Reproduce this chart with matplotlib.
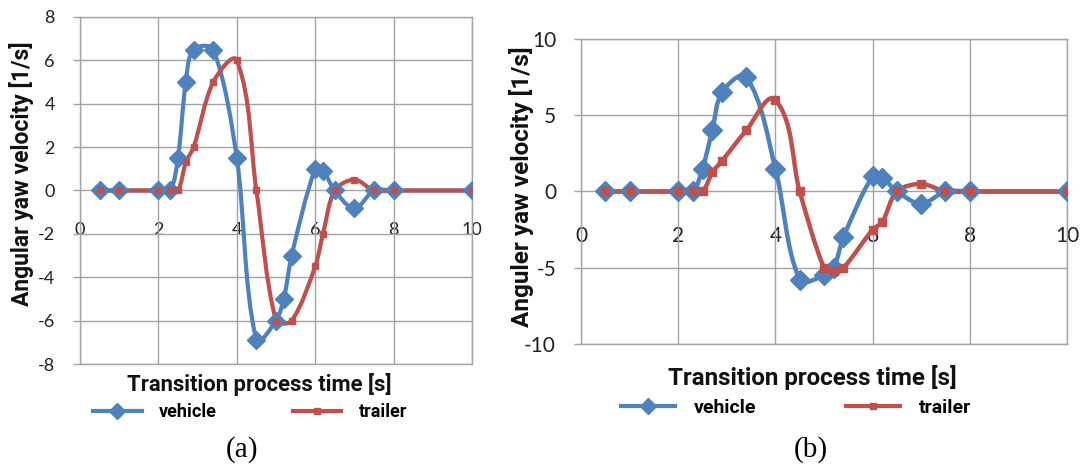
import matplotlib
matplotlib.use("Agg")
import matplotlib.pyplot as plt
import numpy as np
from matplotlib.path import Path
from matplotlib.patches import PathPatch
from matplotlib.lines import Line2D

plt.rcParams['font.family'] = ['Lato', 'DejaVu Sans']
plt.rcParams['axes.unicode_minus'] = False

# (a) yaw velocity
t_veh_a = [0.5, 1, 2, 2.3, 2.5, 2.7, 2.9, 3.4, 4, 4.5, 5, 5.2, 5.4, 6, 6.2, 6.5, 7, 7.5, 8, 10]
w_veh_a = [0, 0, 0, 0, 1.5, 5.0, 6.5, 6.5, 1.5, -6.9, -6.0, -5.0, -3.0, 1.0, 0.9, 0, -0.8, 0, 0, 0]
t_trl_a = [0.5, 1, 2, 2.3, 2.5, 2.7, 2.9, 3.4, 4, 4.5, 5, 5.4, 6, 6.2, 6.5, 7, 7.5, 8, 10]
w_trl_a = [0, 0, 0, 0, 0, 1.3, 2.0, 5.0, 6.0, 0, -6.0, -6.0, -3.5, -2.0, 0, 0.5, 0, 0, 0]

# (b) yaw velocity
t_veh_b = [0.5, 1, 2, 2.3, 2.5, 2.7, 2.9, 3.4, 4, 4.5, 5, 5.2, 5.4, 6, 6.2, 6.5, 7, 7.5, 8, 10]
w_veh_b = [0, 0, 0, 0, 1.5, 4.0, 6.5, 7.5, 1.5, -5.8, -5.5, -5.0, -3.0, 1.0, 0.9, 0, -0.8, 0, 0, 0]
t_trl_b = [0.5, 1, 2, 2.3, 2.5, 2.7, 2.9, 3.4, 4, 4.5, 5, 5.2, 5.4, 6, 6.2, 6.5, 7, 7.5, 8, 10]
w_trl_b = [0, 0, 0, 0, 0, 1.25, 2.0, 4.0, 6.0, 0, -5.0, -5.2, -5.0, -2.5, -2.0, 0, 0.5, 0, 0, 0]

x_ticks = [0, 2, 4, 6, 8, 10]
y_ticks_a = [-8, -6, -4, -2, 0, 2, 4, 6, 8]
y_ticks_b = [-10, -5, 0, 5, 10]

BLUE = '#4f81bd'
RED = '#c0504d'
GRID = '#a3a3a3'
TITLE_FONT = ['Roboto', 'DejaVu Sans']


def smooth_path(ax, x, y, k=0.3):
    # bezier segments through the points (smoothed line); tangent lengths are
    # worked out in screen space so short segments don't overshoot
    fig = ax.figure
    bb = ax.get_position()
    x0, x1 = ax.get_xlim()
    y0, y1 = ax.get_ylim()
    sx = bb.width * fig.bbox.width / (x1 - x0)
    sy = bb.height * fig.bbox.height / (y1 - y0)
    pts = np.column_stack([np.asarray(x, float) * sx, np.asarray(y, float) * sy])
    n = len(pts)

    def tangent(i):
        a = pts[max(i - 1, 0)]
        b = pts[min(i + 1, n - 1)]
        d = b - a
        return d / np.hypot(*d)

    verts = [pts[0]]
    codes = [Path.MOVETO]
    for i in range(n - 1):
        p1, p2 = pts[i], pts[i + 1]
        seg = np.hypot(*(p2 - p1))
        verts += [p1 + tangent(i) * seg * k, p2 - tangent(i + 1) * seg * k, p2]
        codes += [Path.CURVE4] * 3
    verts = np.array(verts) / [sx, sy]
    return Path(verts, codes)


def draw_series(ax, x, y, color, marker, ms, lw):
    ax.add_patch(PathPatch(smooth_path(ax, x, y), fill=False, edgecolor=color, lw=lw,
                           joinstyle='round', capstyle='round', zorder=3))
    ax.plot(x, y, linestyle='none', marker=marker, ms=ms, color=color,
            markeredgecolor=color, zorder=4)


def setup_axes(ax, yticks, fs, pad_x, pad_y):
    ax.set_xlim(0, 10)
    ax.set_ylim(yticks[0], yticks[-1])
    ax.set_xticks(x_ticks)
    ax.set_yticks(yticks)
    ax.tick_params(axis='x', length=0, labelbottom=False)
    ax.tick_params(axis='y', length=5, width=1, color=GRID, pad=pad_y, labelsize=fs,
                   labelcolor='#222222')
    ax.grid(True, color=GRID, lw=1)
    ax.set_axisbelow(True)
    for s in ax.spines.values():
        s.set_color(GRID)
        s.set_linewidth(1)
    # time labels sit just under the zero line
    sec = ax.secondary_xaxis(0.5)
    sec.set_alignment('bottom')
    sec.set_xticks(x_ticks)
    sec.tick_params(length=0, pad=pad_x, labelsize=fs, labelcolor='#222222')
    sec.spines['bottom'].set_visible(False)


fig = plt.figure(figsize=(10.85, 4.68), dpi=100)
ax_a = fig.add_axes([0.0737, 0.2222, 0.3613, 0.7415])
ax_b = fig.add_axes([0.5355, 0.2650, 0.4479, 0.6517])

setup_axes(ax_a, y_ticks_a, 13, 23, 13)
draw_series(ax_a, t_veh_a, w_veh_a, BLUE, 'D', 9, 3)
draw_series(ax_a, t_trl_a, w_trl_a, RED, 's', 5, 3)
ax_a.set_ylabel('Angular yaw velocity [1/s]', fontsize=16.5, fontweight='bold',
                color='#111111', family=TITLE_FONT)
ax_a.yaxis.set_label_coords(-0.118, 0.548)

setup_axes(ax_b, y_ticks_b, 15, 25, 13)
draw_series(ax_b, t_veh_b, w_veh_b, BLUE, 'D', 10, 3.2)
draw_series(ax_b, t_trl_b, w_trl_b, RED, 's', 5.5, 3.2)
ax_b.set_ylabel('Anguler yaw velocity [1/s]', fontsize=17.5, fontweight='bold',
                color='#111111', family=TITLE_FONT)
ax_b.yaxis.set_label_coords(-0.097, 0.515)

fig.text(259 / 1085, 1 - 385 / 468, 'Transition process time [s]', ha='center', va='center',
         fontsize=15.8, fontweight='bold', color='#111111', family=TITLE_FONT)
fig.text(812 / 1085, 1 - 377 / 468, 'Transition process time [s]', ha='center', va='center',
         fontsize=17.4, fontweight='bold', color='#111111', family=TITLE_FONT)

handles = [Line2D([], [], color=BLUE, lw=3, marker='D', ms=8),
           Line2D([], [], color=RED, lw=3, marker='s', ms=5)]
names = ['vehicle', 'trailer']
fig.legend(handles, names, loc='center', bbox_to_anchor=(250 / 1085, 1 - 412 / 468), ncol=2,
           frameon=False, handlelength=2.7, handletextpad=0.95, columnspacing=4.2,
           prop={'size': 13, 'weight': 'bold', 'family': TITLE_FONT})
fig.legend(handles, names, loc='center', bbox_to_anchor=(796 / 1085, 1 - 408 / 468), ncol=2,
           frameon=False, handlelength=2.8, handletextpad=0.95, columnspacing=4.6,
           prop={'size': 14, 'weight': 'bold', 'family': TITLE_FONT})

fig.text(242 / 1085, 1 - 450 / 468, '(a)', ha='center', va='center', fontsize=21,
         family='Liberation Serif')
fig.text(811 / 1085, 1 - 450 / 468, '(b)', ha='center', va='center', fontsize=21,
         family='Liberation Serif')

fig.savefig('out.png', dpi=100, facecolor='white')
